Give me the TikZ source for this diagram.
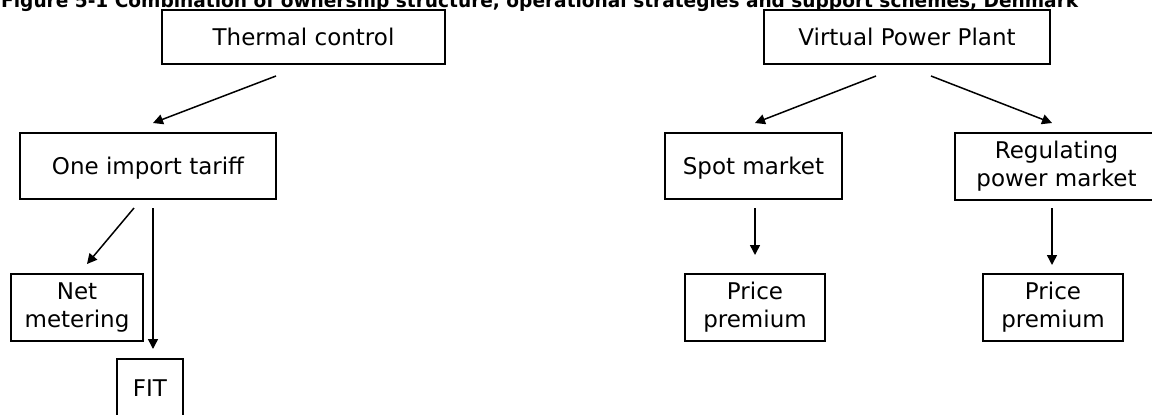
\documentclass[tikz,border=0pt]{standalone}
\usepackage{fontspec}
\setmainfont{DejaVu Sans}
\usetikzlibrary{arrows.meta}
\begin{document}
\begin{tikzpicture}[x=1pt,y=-1pt,
  boxbase/.style={draw=black, line width=1.8pt, inner sep=0pt, outer sep=0pt,
    font=\fontsize{23}{28}\selectfont, align=center},
  onebox/.style={boxbase, text depth=0pt},
  twobox/.style={boxbase},
  arr/.style={line width=1.5pt, -{Triangle[length=10pt,width=10pt]}}]
\useasboundingbox (0,0) rectangle (1152,415);
\clip (0,0) rectangle (1152,415);

% caption
\node[anchor=base west, inner sep=0pt] (title) at (1,7)
  {\resizebox{1077pt}{\height}{\fontsize{19}{19}\selectfont\bfseries Figure 5-1 Combination of ownership structure, operational strategies and support schemes, Denmark}};

% left tree
\node[onebox, minimum width=283pt, minimum height=54pt] (thermal) at (303.5,37) {Thermal control};
\node[onebox, minimum width=256pt, minimum height=66pt] (tariff) at (148,166) {One import tariff};
\node[twobox, minimum width=132pt, minimum height=67pt] (netm) at (77,307.5) {Net\\metering};
\node[onebox, minimum width=66pt, minimum height=58pt] (fit) at (150,388) {FIT};

% right tree
\node[onebox, minimum width=286pt, minimum height=54pt] (vpp) at (907,37) {Virtual Power Plant};
\node[onebox, minimum width=177pt, minimum height=66pt] (spot) at (753.5,166) {Spot market};
\node[twobox, minimum width=203pt, minimum height=67pt] (reg) at (1056.5,166.5) {Regulating\\power market};
\node[twobox, minimum width=140pt, minimum height=67pt] (pp1) at (755,307.5) {Price\\premium};
\node[twobox, minimum width=140pt, minimum height=67pt] (pp2) at (1053,307.5) {Price\\premium};

% connectors
\draw[arr] ([shift={(-27.5,12)}]thermal.south) -- ([shift={(5,-10)}]tariff.north);
\draw[arr] ([shift={(-14,9)}]tariff.south) -- ([shift={(10,-10)}]netm.north);
\draw[arr] ([shift={(5,9)}]tariff.south) -- ([shift={(3,-10)}]fit.north);
\draw[arr] ([shift={(-31,12)}]vpp.south) -- ([shift={(1.5,-10)}]spot.north);
\draw[arr] ([shift={(24,12)}]vpp.south) -- ([shift={(-4.5,-10)}]reg.north);
\draw[arr] ([shift={(1.5,9)}]spot.south) -- ([shift={(0,-19)}]pp1.north);
\draw[arr] ([shift={(-4.5,8)}]reg.south) -- ([shift={(-1,-9)}]pp2.north);
\end{tikzpicture}
\end{document}
